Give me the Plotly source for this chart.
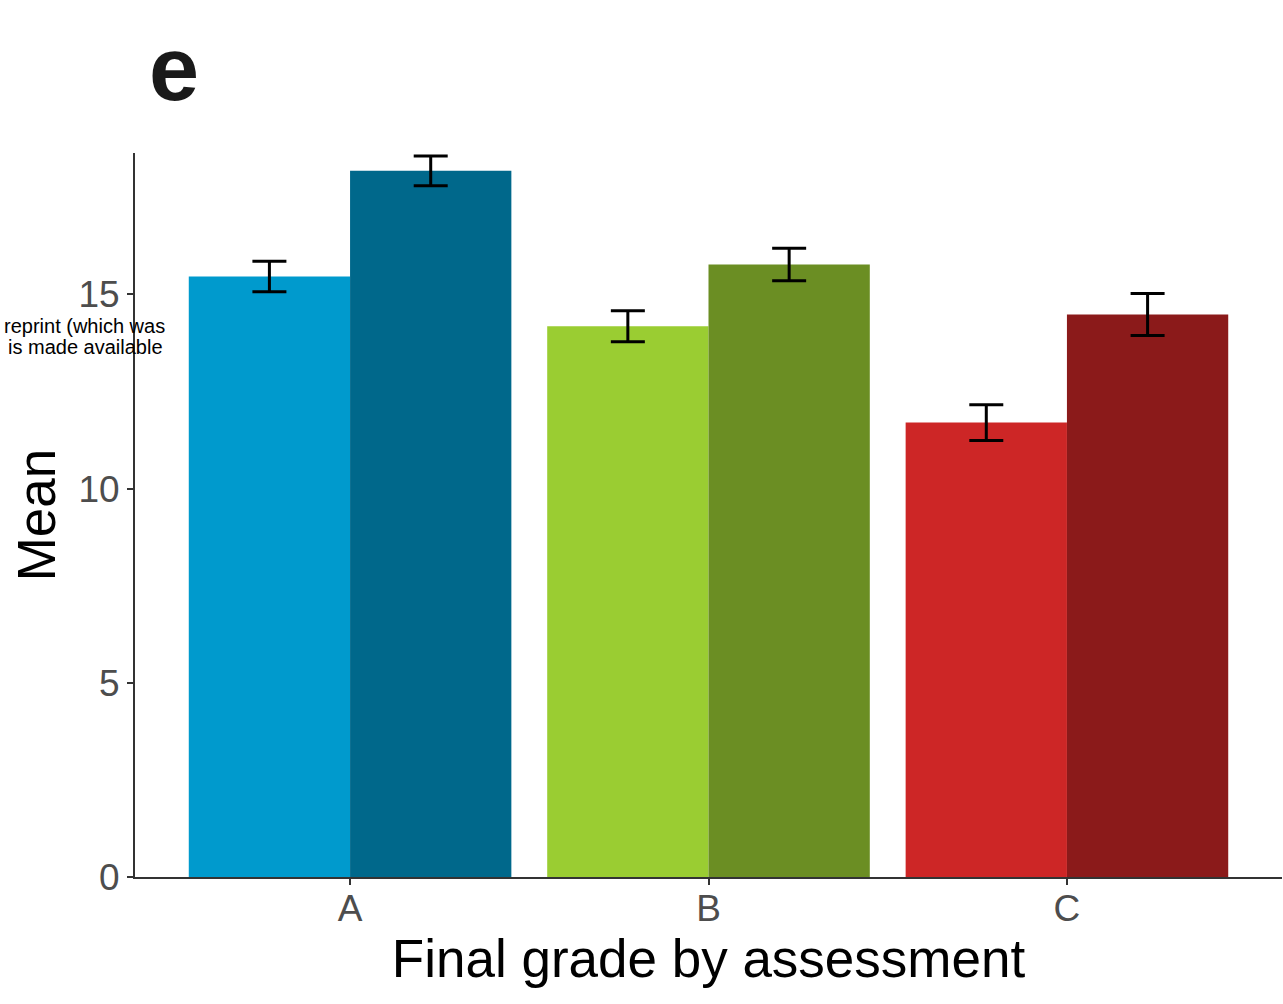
import plotly.graph_objects as go

categories = ["A", "B", "C"]
light_values = [15.46, 14.18, 11.70]
light_errors = [0.39, 0.40, 0.46]
dark_values = [18.18, 15.77, 14.48]
dark_errors = [0.38, 0.42, 0.54]
light_colors = ["#009ACD", "#9ACD32", "#CD2626"]
dark_colors = ["#00688B", "#6B8E23", "#8B1A1A"]
y_ticks = [0, 5, 10, 15]

FONT = "Liberation Sans, Arial, Helvetica, sans-serif"

fig = go.Figure()
fig.add_trace(go.Bar(
    x=categories, y=light_values, marker=dict(color=light_colors, line=dict(width=0)),
    error_y=dict(type="data", array=light_errors, color="black", thickness=3, width=17),
    showlegend=False, cliponaxis=False,
))
fig.add_trace(go.Bar(
    x=categories, y=dark_values, marker=dict(color=dark_colors, line=dict(width=0)),
    error_y=dict(type="data", array=dark_errors, color="black", thickness=3, width=17),
    showlegend=False, cliponaxis=False,
))

fig.update_layout(
    width=1283, height=1004,
    margin=dict(l=135, r=1, t=153, b=127),
    paper_bgcolor="white", plot_bgcolor="white",
    barmode="group", bargap=0.1, bargroupgap=0,
    font=dict(family=FONT, color="black"),
    xaxis=dict(
        range=[-0.6, 2.6], showline=True, linecolor="#333333", linewidth=2,
        ticks="outside", ticklen=6, tickwidth=2, tickcolor="#333333",
        tickfont=dict(size=37, color="#4D4D4D"), ticklabelstandoff=-8,
        showgrid=False, zeroline=False,
        title=dict(text="Final grade by assessment", font=dict(size=53, color="black"), standoff=2),
    ),
    yaxis=dict(
        range=[0, 18.64], showline=True, linecolor="#333333", linewidth=2,
        ticks="outside", ticklen=6, tickwidth=2, tickcolor="#333333",
        tickvals=y_ticks, ticktext=[str(v) for v in y_ticks],
        tickfont=dict(size=37, color="#4D4D4D"), ticklabelstandoff=0,
        showgrid=False, zeroline=False,
        title=dict(text="Mean", font=dict(size=53, color="black"), standoff=6),
    ),
    annotations=[
        dict(text="<b>e</b>", xref="paper", yref="paper", x=(174 - 135) / 1147, y=(877 - 69) / 724,
             xanchor="center", yanchor="middle", showarrow=False, font=dict(size=90, color="#1a1a1a", family=FONT)),
        dict(text="reprint (which was", xref="paper", yref="paper", x=(167 - 135) / 1147, y=(877 - 326) / 724,
             xanchor="right", yanchor="middle", showarrow=False, font=dict(size=20, color="black", family=FONT)),
        dict(text="is made available", xref="paper", yref="paper", x=(165 - 135) / 1147, y=(877 - 347) / 724,
             xanchor="right", yanchor="middle", showarrow=False, font=dict(size=20, color="black", family=FONT)),
    ],
)

fig.write_html("out.html")
